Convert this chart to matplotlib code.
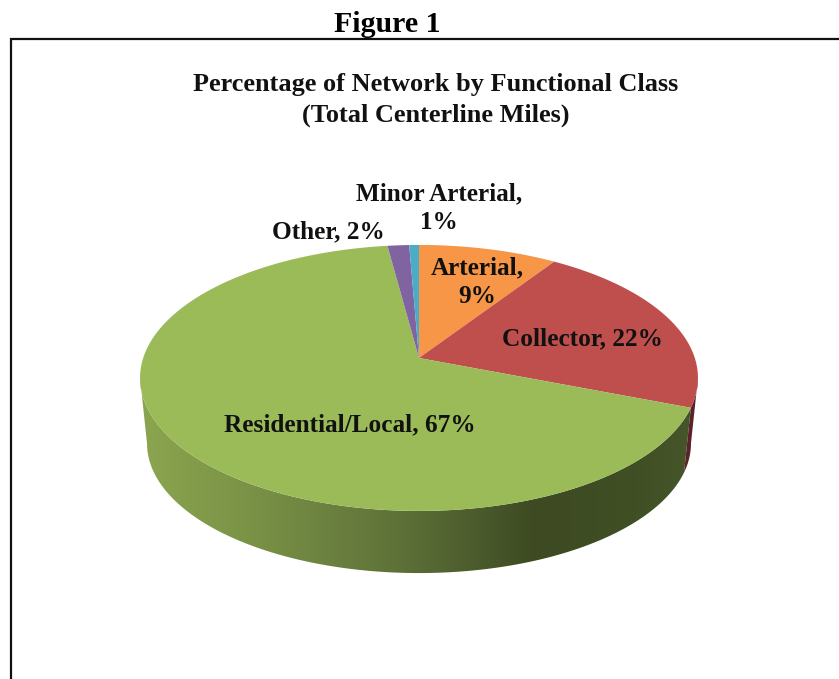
import numpy as np
import matplotlib
matplotlib.use("Agg")
import matplotlib.pyplot as plt
from matplotlib.colors import LinearSegmentedColormap
from matplotlib.patches import Polygon

plt.rcParams['font.family'] = ['Liberation Serif', 'DejaVu Serif']

categories = ["Arterial", "Collector", "Residential/Local", "Other", "Minor Arterial"]
# slice sizes as measured on the picture, the printed labels are rounded
shares = [9.3, 21.6, 67.0, 1.45, 0.65]
labels = ["Arterial,\n9%", "Collector, 22%", "Residential/Local, 67%", "Other, 2%", "Minor Arterial,\n1%"]
colors = ["#F79646", "#BE4F4D", "#9BBB59", "#8064A2", "#4BACC6"]

# tilted disc, axes are in image pixels
CX = 419
TILT = 0.15
TOP = (358, 275.8, 130)
BOTTOM = (424, 268.9, 126.7)
# where the rim is widest on screen
SIDE_ANGLE = np.degrees(np.arccos(-TILT))


def rim(start, end, disc=TOP, n=200):
    y0, a, b = disc
    t = np.radians(np.linspace(start, end, n))
    u, v = np.sin(t), np.cos(t)
    w = 1 + TILT * v
    return np.column_stack([CX + a * u / w, y0 - b * v / w])


def wall(start, end):
    return np.vstack([rim(start, end), rim(end, start, BOTTOM)])


fig = plt.figure(figsize=(8.39, 6.79), dpi=100)
ax = fig.add_axes([0, 0, 1, 1])
ax.set_xlim(0, 839)
ax.set_ylim(679, 0)
ax.axis("off")

# frame
ax.plot([11, 11, 839], [679, 39, 39], color="#111111", lw=1.6, solid_joinstyle="miter")

edges = np.cumsum([0] + shares) / sum(shares) * 360

# side walls, only collector and residential show
p = Polygon(wall(SIDE_ANGLE, edges[2]), color="#5A2229", lw=0)
ax.add_patch(p)

p = Polygon(wall(edges[2], 360 - SIDE_ANGLE), facecolor="none", lw=0)
ax.add_patch(p)
side = LinearSegmentedColormap.from_list("side", [
    (0.0, "#8BA54F"), (0.2, "#7A9246"), (0.45, "#60743A"),
    (0.72, "#3D4A22"), (0.9, "#414F25"), (1.0, "#46552A")])
im = ax.imshow(np.linspace(0, 1, 256)[None, :], cmap=side, extent=[140, 692, 600, 300], aspect="auto")
im.set_clip_path(p)
ax.set_xlim(0, 839)
ax.set_ylim(679, 0)

# top face
for i in range(len(shares)):
    pts = np.vstack([[[CX, TOP[0]]], rim(edges[i], edges[i + 1])])
    ax.add_patch(Polygon(pts, color=colors[i], lw=0, zorder=3))

ax.text(387, 25, "Figure 1", fontsize=21.5, fontweight="bold", ha="center", va="center", color="black", zorder=5)
ax.text(436, 85, "Percentage of Network by Functional Class", fontsize=18.9, fontweight="bold",
        ha="center", va="center", color="#111111", zorder=5)
ax.text(436, 115, "(Total Centerline Miles)", fontsize=18.9, fontweight="bold",
        ha="center", va="center", color="#111111", zorder=5)

# y of the first line, two line labels are drawn line by line
label_pos = [(477, 268), (582, 339), (350, 425), (328, 232), (439, 194)]
for txt, (x, y) in zip(labels, label_pos):
    for n, line in enumerate(txt.split("\n")):
        ax.text(x, y + n * 28.5, line, fontsize=18.2, fontweight="bold", ha="center", va="center",
                color="#111111", zorder=5)

fig.savefig("out.png", dpi=100, facecolor="white")
